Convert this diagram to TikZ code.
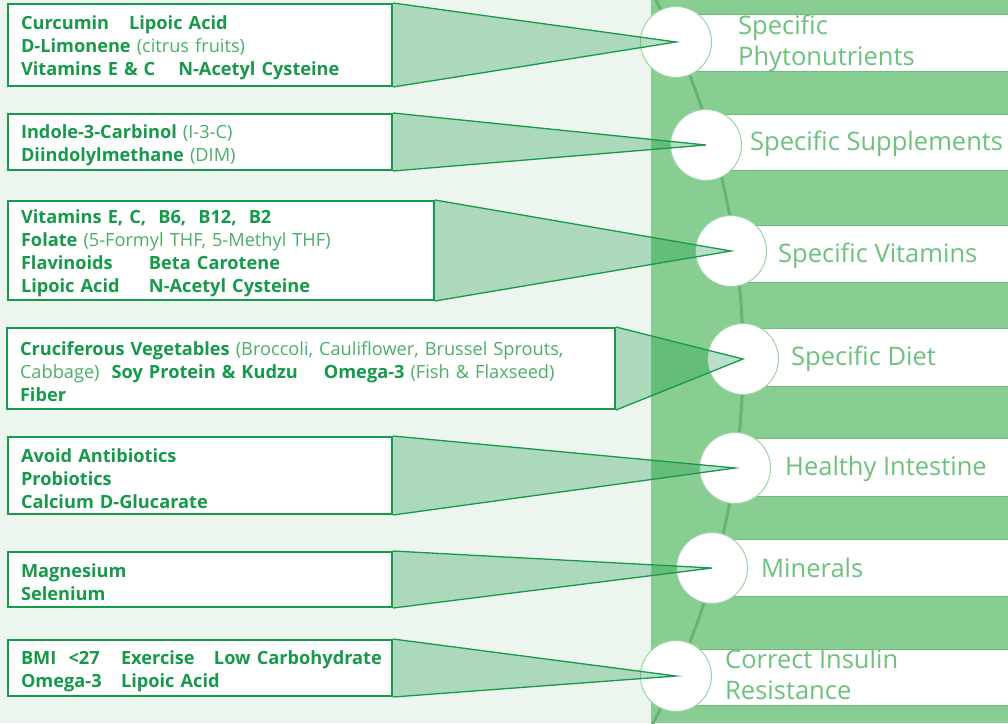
\documentclass[tikz,border=0pt]{standalone}
\usepackage{fontspec}
\setmainfont{Open Sans}
\definecolor{bgl}{HTML}{EDF6EE}
\definecolor{band}{HTML}{88CE92}
\definecolor{dg}{HTML}{16994A}
\definecolor{lg}{HTML}{4AAF68}
\definecolor{arcc}{HTML}{66B374}
\definecolor{lblc}{HTML}{6CC27C}
\definecolor{lblb}{HTML}{6DBE7B}
\definecolor{circb}{HTML}{9AD5A3}
\newcommand{\lt}[1]{{\mdseries\color{lg}#1}}
\begin{document}
\begin{tikzpicture}[x=1pt,y=-1pt,
  lbox/.style={draw=dg, line width=2pt, fill=white, anchor=north west, inner xsep=13pt, inner ysep=0pt, align=left, font=\fontsize{18.2}{23}\selectfont\bfseries, text=dg, execute at begin node={\rule{0pt}{20pt}}},
  dot/.style={circle, fill=white, draw=circb, line width=1pt, minimum size=71pt, inner sep=0pt},
  lbl/.style={anchor=base west, text=lblc, font=\fontsize{25.5}{31}\selectfont, inner sep=0pt, align=left},
  wedge/.style={draw=dg, line width=1.3pt, fill=dg, fill opacity=0.3, line join=miter},
  tag/.style={fill=white, draw=lblb, line width=1pt},
]
\useasboundingbox (0,0) rectangle (1008,723);
\fill[bgl] (0,0) rectangle (1008,723);
\fill[band] (651,0) rectangle (1008,723);
\begin{scope}
\clip (0,0) rectangle (1008,723);
\draw[arcc, line width=3pt] plot[domain=-29:29, samples=60] ({-40.4+783.4*cos(\x)},{359+783.4*sin(\x)});
\draw[tag] (676,14) rectangle (1015,71);
\draw[tag] (706,114) rectangle (1015,170);
\draw[tag] (731,225) rectangle (1015,282);
\draw[tag] (743,328) rectangle (1015,386);
\draw[tag] (735,438) rectangle (1015,496);
\draw[tag] (712,539) rectangle (1015,596);
\draw[tag] (676,649) rectangle (1015,705);
\end{scope}

\node[dot] (c1) at (676,42) {};
\node[dot] (c2) at (706,145) {};
\node[dot] (c3) at (731,251) {};
\node[dot] (c4) at (743,359) {};
\node[dot] (c5) at (735,468) {};
\node[dot] (c6) at (712,568) {};
\node[dot] (c7) at (676,676) {};

\node[lbox, minimum width=384pt, minimum height=82pt, text width=358pt] (b1) at (7,3)
 {\mbox{Curcumin\hspace{20pt}Lipoic Acid}\\
  \mbox{D-Limonene \lt{(citrus fruits)}}\\
  \mbox{Vitamins E \& C\hspace{23pt}N-Acetyl Cysteine}};
\node[lbox, minimum width=384pt, minimum height=56pt, text width=358pt] (b2) at (7,113)
 {\mbox{Indole-3-Carbinol \lt{(I-3-C)}}\\
  \mbox{Diindolylmethane \lt{(DIM)}}};
\node[lbox, minimum width=426pt, minimum height=99pt, text width=400pt] (b3) at (7,200)
 {\mbox{Vitamins E, C,\ \ B6,\ \ B12,\ \ B2}\\
  \mbox{Folate \lt{(5-Formyl THF, 5-Methyl THF)}}\\
  \mbox{\makebox[128pt][l]{Flavinoids}Beta Carotene}\\
  \mbox{\makebox[128pt][l]{Lipoic Acid}N-Acetyl Cysteine}};
\node[lbox, minimum width=608pt, minimum height=81pt, text width=582pt] (b4) at (6,327)
 {\mbox{Cruciferous Vegetables \lt{(Broccoli, Cauliflower, Brussel Sprouts,}}\\
  \mbox{\lt{Cabbage)}\hspace{12pt}Soy Protein \& Kudzu\hspace{26pt}Omega-3 \lt{(Fish \& Flaxseed)}}\\
  \mbox{Fiber}};
\node[lbox, minimum width=384pt, minimum height=77pt, text width=358pt] (b5) at (7,436)
 {\mbox{Avoid Antibiotics}\\
  \mbox{Probiotics}\\
  \mbox{Calcium D-Glucarate}};
\node[lbox, minimum width=384pt, minimum height=55pt, text width=358pt] (b6) at (7,551)
 {\mbox{Magnesium}\\
  \mbox{Selenium}};
\node[lbox, minimum width=384pt, minimum height=56pt, text width=358pt] (b7) at (7,639)
 {\mbox{\makebox[100pt][l]{BMI\ \ <27}\makebox[93pt][l]{Exercise}Low Carbohydrate}\\
  \mbox{\makebox[100pt][l]{Omega-3}Lipoic Acid}};

\path[wedge] (b1.north east) -- (c1.center) -- (b1.south east);
\path[wedge] (b2.north east) -- (c2.center) -- (b2.south east);
\path[wedge] (b3.north east) -- (c3.center) -- (b3.south east);
\path[wedge] (b4.north east) -- (c4.center) -- (b4.south east);
\path[wedge] (b5.north east) -- (c5.center) -- (b5.south east);
\path[wedge] (b6.north east) -- (c6.center) -- (b6.south east);
\path[wedge] (b7.north east) -- (c7.center) -- (b7.south east);

\node[lbl] (t1) at (738,65) {Specific\\Phytonutrients};
\node[lbl] (t2) at (750,150) {Specific Supplements};
\node[lbl] (t3) at (778,262) {Specific Vitamins};
\node[lbl] (t4) at (791,365) {Specific Diet};
\node[lbl] (t5) at (785,475) {Healthy Intestine};
\node[lbl] (t6) at (761,577) {Minerals};
\node[lbl] (t7) at (725,699) {Correct Insulin\\Resistance};
\end{tikzpicture}
\end{document}
